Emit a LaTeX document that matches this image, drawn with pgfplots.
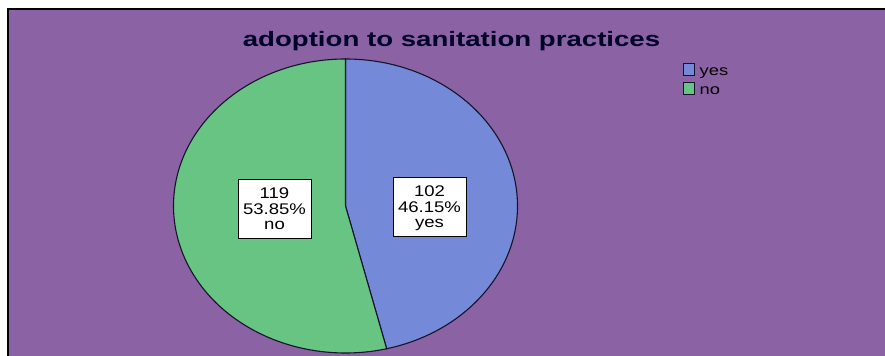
\documentclass[border=0pt]{standalone}
\usepackage{graphicx}
\usepackage{pgfplots}
\usepackage{pgfplotstable}
\pgfplotsset{compat=1.18}
\usepackage{fontspec}
\setmainfont{Liberation Sans}
\definecolor{bgpurple}{RGB}{139,98,164}
\definecolor{yescol}{RGB}{117,137,217}
\definecolor{nocol}{RGB}{104,196,130}
\definecolor{edge}{RGB}{20,20,40}
\pgfplotstableread{
label value
yes 102
no 119
}\piedata
\pgfplotstablegetelem{0}{value}\of\piedata \let\vyes\pgfplotsretval
\pgfplotstablegetelem{1}{value}\of\piedata \let\vno\pgfplotsretval
\pgfmathsetmacro\total{\vyes+\vno}
\pgfmathsetmacro\angyes{\vyes/\total*360}
\pgfmathsetmacro\endyes{90-\angyes}
\pgfmathsetmacro\endno{\endyes+360}
\newcommand\lbl[1]{\scalebox{1.2}[1]{\fontsize{15.5}{16}\selectfont #1}}
\begin{document}
\begin{tikzpicture}
\begin{axis}[
  scale only axis, width=885bp, height=356bp,
  xmin=0, xmax=885, ymin=0, ymax=356, y dir=reverse,
  hide axis, clip=true]
% background
\fill[white] (axis cs:0,0) rectangle (axis cs:885,356);
\fill[bgpurple] (axis cs:8,10) rectangle (axis cs:885,356);
\draw[black, line width=2bp] (axis cs:7.5,356) -- (axis cs:7.5,9.5) -- (axis cs:885,9.5);
% pie slices
\filldraw[fill=yescol, draw=edge, line width=1.1bp]
  (axis cs:345.5,206) -- (axis cs:345.5,59)
  arc[start angle=90, end angle=\endyes, x radius=172bp, y radius=147bp] -- cycle;
\filldraw[fill=nocol, draw=edge, line width=1.1bp]
  (axis cs:345.5,206) -- (axis cs:345.5,59)
  arc[start angle=90, end angle=\endno, x radius=172bp, y radius=147bp] -- cycle;
% title
\node[anchor=base, inner sep=0pt, text=black!85!blue] at (axis cs:451.5,46.5)
  {\scalebox{1.32}[1]{\fontsize{21}{24}\selectfont\bfseries adoption to sanitation practices}};
% data labels
\draw[black, fill=white, line width=0.9bp] (axis cs:238,179) rectangle (axis cs:311,238);
\draw[black, fill=white, line width=0.9bp] (axis cs:393,177) rectangle (axis cs:466,236);
\node[anchor=base, inner sep=0pt] at (axis cs:274.5,198.5) {\lbl{\vno}};
\node[anchor=base, inner sep=0pt] at (axis cs:274.5,214) {\lbl{53.85\%}};
\node[anchor=base, inner sep=0pt] at (axis cs:274.5,229.5) {\lbl{no}};
\node[anchor=base, inner sep=0pt] at (axis cs:429.5,196.5) {\lbl{\vyes}};
\node[anchor=base, inner sep=0pt] at (axis cs:429.5,212) {\lbl{46.15\%}};
\node[anchor=base, inner sep=0pt] at (axis cs:429.5,227.5) {\lbl{yes}};
% legend
\filldraw[fill=yescol, draw=edge, line width=1bp] (axis cs:683.5,63.5) rectangle (axis cs:694.5,75.5);
\filldraw[fill=nocol, draw=edge, line width=1bp] (axis cs:683.5,82.5) rectangle (axis cs:694.5,94.5);
\node[anchor=base west, inner sep=0pt] at (axis cs:699.5,75.5)
  {\scalebox{1.27}[1]{\fontsize{14.5}{16}\selectfont yes}};
\node[anchor=base west, inner sep=0pt] at (axis cs:699.5,94.5)
  {\scalebox{1.27}[1]{\fontsize{14.5}{16}\selectfont no}};
\end{axis}
\end{tikzpicture}
\end{document}
